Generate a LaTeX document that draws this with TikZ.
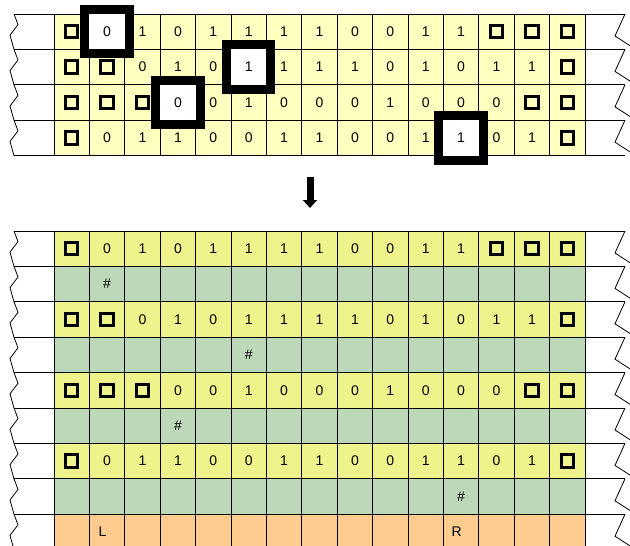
\documentclass[tikz,border=0pt]{standalone}
\usepackage{fontspec}
\setmainfont{Liberation Sans}
\usetikzlibrary{arrows.meta}

\definecolor{tapetop}{HTML}{FFFFC0}
\definecolor{tapeyel}{HTML}{EEF38C}
\definecolor{tapegrn}{HTML}{BDD7B9}
\definecolor{tapeorg}{HTML}{FFCC90}

% blank symbol of the tape
\newcommand{\bsq}{{\setlength{\fboxrule}{3pt}\setlength{\fboxsep}{0pt}%
  \fbox{\vrule width 0pt height 9.5pt\hspace{9.5pt}}}}

\begin{document}
\begin{tikzpicture}[
    x=1pt, y=-1pt,
    cell/.style={draw, line width=0.8pt, minimum width=35.4pt, minimum height=35.4pt,
                 inner sep=0pt, outer sep=0pt, font=\fontsize{14}{16}\selectfont},
    hilite/.style={draw, line width=9pt, fill=white, minimum width=44.4pt,
                   minimum height=44.4pt, inner sep=0pt, font=\fontsize{14}{16}\selectfont},
    tapeedge/.style={line width=0.8pt, line join=miter},
    >={Triangle[width=14pt, length=8pt]}
  ]
  \useasboundingbox (0,0) rectangle (630,546);
  \clip (0,0) rectangle (630,546);

  % torn ends of both tapes
  \foreach \top/\n in {14/4, 231/9} {
    \foreach \k in {1,...,\n} {
      \pgfmathsetmacro\t{\top+(\k-1)*35.4}
      \pgfmathsetmacro\b{\top+\k*35.4}
      \draw[tapeedge] (14,\t) -- (54,\t) (585,\t) -- (625,\t);
      \draw[tapeedge] (14,\b) -- (54,\b) (585,\b) -- (625,\b);
      \draw[tapeedge] (14,\t) -- (18,\t+10.6) -- (10,\t+21.2) -- (14,\b);
      \draw[tapeedge] (625,\t) -- (615,\t+22) -- (632,\t+33);
    }
  }

  % upper tape
  \foreach \row [count=\r] in {
      {\bsq,{},1,0,1,1,1,1,0,0,1,1,\bsq,\bsq,\bsq},
      {\bsq,\bsq,0,1,0,{},1,1,1,0,1,0,1,1,\bsq},
      {\bsq,\bsq,\bsq,{},0,1,0,0,0,1,0,0,0,\bsq,\bsq},
      {\bsq,0,1,1,0,0,1,1,0,0,1,{},0,1,\bsq}} {
    \foreach \v [count=\c] in \row
      \node[cell, fill=tapetop] (t-\r-\c) at ({54+(\c-0.5)*35.4},{14+(\r-0.5)*35.4}) {\v};
  }
  \foreach \r/\c/\v in {1/2/0, 2/6/1, 3/4/0, 4/12/1}
    \node[hilite] (h-\r) at (t-\r-\c) {\v};

  \coordinate (arrtop) at (310,177);
  \coordinate (arrbot) at (310,208);
  \draw[->, line width=7pt] (arrtop) -- (arrbot);

  % lower tape
  \foreach \row [count=\i] in {
      {\bsq,0,1,0,1,1,1,1,0,0,1,1,\bsq,\bsq,\bsq},
      {\bsq,\bsq,0,1,0,1,1,1,1,0,1,0,1,1,\bsq},
      {\bsq,\bsq,\bsq,0,0,1,0,0,0,1,0,0,0,\bsq,\bsq},
      {\bsq,0,1,1,0,0,1,1,0,0,1,1,0,1,\bsq}} {
    \pgfmathtruncatemacro\r{2*\i-1}
    \foreach \v [count=\c] in \row
      \node[cell, fill=tapeyel] (b-\r-\c) at ({54+(\c-0.5)*35.4},{231+(\r-0.5)*35.4}) {\v};
  }
  \foreach \r/\m in {2/2, 4/6, 6/4, 8/12}
    \foreach \c in {1,...,15}
      \node[cell, fill=tapegrn] (b-\r-\c) at ({54+(\c-0.5)*35.4},{231+(\r-0.5)*35.4})
        {\ifnum\c=\m\#\fi};
  \foreach \c in {1,...,15}
    \node[cell, fill=tapeorg] (b-9-\c) at ({54+(\c-0.5)*35.4},{231+8.5*35.4})
      {\ifnum\c=2 L\hspace*{9pt}\fi\ifnum\c=12 R\hspace*{9pt}\fi};
\end{tikzpicture}
\end{document}
